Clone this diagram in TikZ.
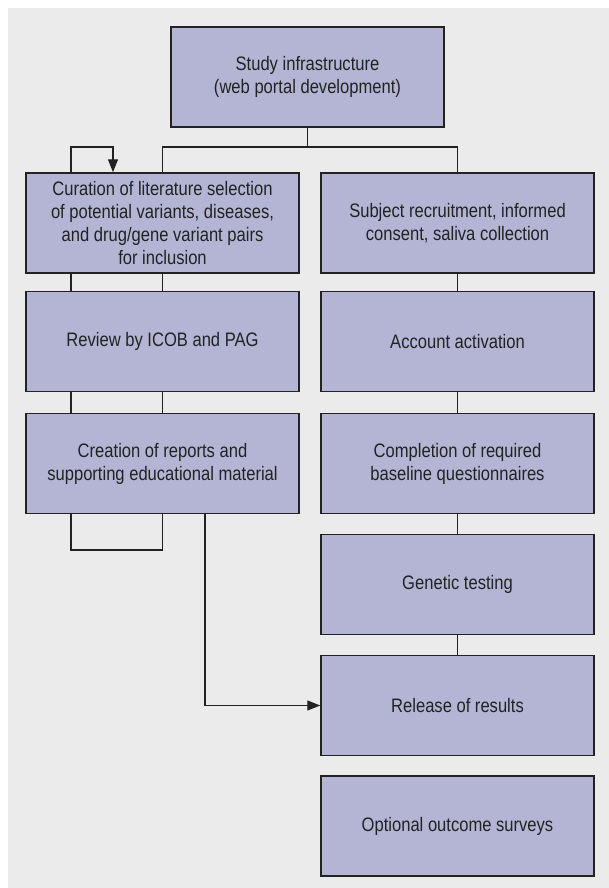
\documentclass[tikz,border=0pt]{standalone}
\usepackage{fontspec}
\setmainfont{Liberation Sans}[FakeStretch=0.85]
\usetikzlibrary{arrows.meta}
\definecolor{boxfill}{RGB}{180,181,212}
\definecolor{bggray}{RGB}{235,235,235}
\definecolor{ink}{RGB}{34,34,34}
\tikzset{
  stepbox/.style={draw=ink, line width=1.5pt, fill=boxfill, rectangle,
    minimum width=273pt, minimum height=100pt, inner sep=0pt,
    align=center, text=ink, font=\fontsize{19.5}{23}\selectfont},
  conn/.style={draw=ink, line width=1.3pt},
  arr/.style={conn, -{Triangle[length=13pt,width=10pt]}}
}
\begin{document}
\begin{tikzpicture}[x=1pt,y=-1pt]
\useasboundingbox (0,0) rectangle (609,888);
\fill[white] (0,0) rectangle (609,888);
\fill[bggray] (8,8) rectangle (609,888);

\node[stepbox] (T) at (307.5,77) {Study infrastructure\\(web portal development)};

\node[stepbox] (L1) at (162.5,223) {Curation of literature selection\\of potential variants, diseases,\\and drug/gene variant pairs\\for inclusion};
\node[stepbox] (L2) at (162.5,341.5) {Review by ICOB and PAG};
\node[stepbox] (L3) at (162.5,463.5) {Creation of reports and\\supporting educational material};

\node[stepbox] (R1) at (457.5,223) {Subject recruitment, informed\\consent, saliva collection};
\node[stepbox] (R2) at (457.5,341.5) {Account activation};
\node[stepbox] (R3) at (457.5,463.5) {Completion of required\\baseline questionnaires};
\node[stepbox] (R4) at (457.5,584.5) {Genetic testing};
\node[stepbox] (R5) at (457.5,705.5) {Release of results};
\node[stepbox] (R6) at (457.5,826) {Optional outcome surveys};

\coordinate (bus) at (307.5,147);
\coordinate (la) at (71,0);
\coordinate (lc) at (113,0);
\coordinate (loopb) at (71,550);
\coordinate (rx) at (205,0);

% top tree
\draw[conn] (T.south) -- (bus);
\draw[conn] (bus) -| (L1.north);
\draw[conn] (bus) -| (R1.north);

% loop above L1
\draw[arr] (la |- L1.north) |- (lc |- bus) -- (lc |- L1.north);

% left column links
\draw[conn] (la |- L1.south) -- (la |- L2.north);
\draw[conn] (L1.south) -- (L2.north);
\draw[conn] (la |- L2.south) -- (la |- L3.north);
\draw[conn] (L2.south) -- (L3.north);

% loop below L3
\draw[conn] (la |- L3.south) |- (L3.south |- loopb) -- (L3.south);

% arrow to release
\draw[arr] (rx |- L3.south) |- (R5.west);

% right column links
\draw[conn] (R1.south) -- (R2.north);
\draw[conn] (R2.south) -- (R3.north);
\draw[conn] (R3.south) -- (R4.north);
\draw[conn] (R4.south) -- (R5.north);
\end{tikzpicture}
\end{document}
